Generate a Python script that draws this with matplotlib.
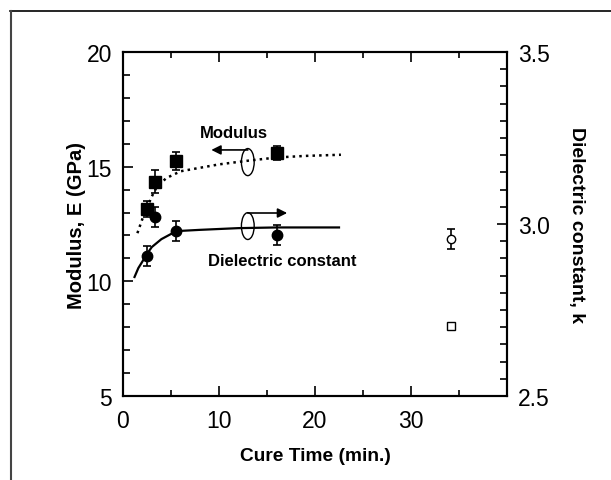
import numpy as np
import matplotlib
matplotlib.use('Agg')
import matplotlib.pyplot as plt
from matplotlib.patches import Ellipse
from matplotlib.lines import Line2D
from matplotlib.ticker import MultipleLocator

plt.rcParams['font.family'] = ['Liberation Sans', 'DejaVu Sans']

##  modulus data (left axis)
mod_t = [2.5, 3.3, 5.5, 16.0]
mod_E = [13.15, 14.35, 15.25, 15.6]
mod_err = [0.35, 0.5, 0.4, 0.3]
mod_open_t = [34.2]
mod_open_E = [8.05]

##  dielectric data (right axis)
diel_t = [2.5, 3.3, 5.5, 16.0]
diel_k = [2.907, 3.02, 2.98, 2.968]
diel_err = [0.03, 0.03, 0.03, 0.03]
diel_open_t = [34.2]
diel_open_k = [2.956]
diel_open_err = [0.03]

##  fitted curves
fit_mod_t = [1.5, 2.0, 2.5, 3.0, 3.5, 4.5, 6.0, 8.0, 10.0, 13.0, 16.0, 19.0, 22.7]
fit_mod_E = [12.1, 12.7, 13.2, 13.7, 14.1, 14.5, 14.8, 14.95, 15.1, 15.26, 15.4, 15.47, 15.52]
fit_diel_t = [1.2, 1.6, 2.0, 2.5, 3.0, 4.0, 5.0, 6.0, 8.0, 12.0, 16.0, 22.5]
fit_diel_k = [2.846, 2.872, 2.89, 2.913, 2.933, 2.956, 2.971, 2.98, 2.983, 2.988, 2.99, 2.99]

fig = plt.figure(figsize=(6.11, 4.81), dpi=100)
ax1 = fig.add_axes([0.2013, 0.1746, 0.6285, 0.7152])
ax2 = ax1.twinx()

# modulus
ax1.plot(fit_mod_t, fit_mod_E, ':', color='black', linewidth=1.8)
ax1.errorbar(mod_t, mod_E, yerr=mod_err, fmt='s', color='black', markersize=9,
             capsize=3, elinewidth=1.2, capthick=1.2)
ax1.plot(mod_open_t, mod_open_E, 's', markerfacecolor='white', markeredgecolor='black',
         markersize=6, markeredgewidth=1.0)

# dielectric constant
ax2.plot(fit_diel_t, fit_diel_k, '-', color='black', linewidth=1.6)
ax2.errorbar(diel_t, diel_k, yerr=diel_err, fmt='o', color='black', markersize=7.5,
             capsize=3, elinewidth=1.2, capthick=1.2)
ax2.errorbar(diel_open_t, diel_open_k, yerr=diel_open_err, fmt='o', color='black',
             markerfacecolor='white', markersize=6, capsize=3, elinewidth=1.2, capthick=1.2)

ax1.set_xlim(0, 40)
ax1.set_ylim(5, 20)
ax2.set_ylim(2.5, 3.5)

ax1.set_xticks([0, 10, 20, 30])
ax1.xaxis.set_minor_locator(MultipleLocator(5))
ax1.set_yticks([5, 10, 15, 20])
ax1.yaxis.set_minor_locator(MultipleLocator(1))
ax2.set_yticks([2.5, 3.0, 3.5])
ax2.set_yticklabels(['2.5', '3.0', '3.5'])
ax2.yaxis.set_minor_locator(MultipleLocator(0.05))

ax1.tick_params(axis='x', which='both', direction='in', top=True, labelsize=16.5, pad=9, width=1.2)
ax1.tick_params(axis='x', which='major', length=7)
ax1.tick_params(axis='x', which='minor', length=4)
ax1.tick_params(axis='y', which='both', direction='in', labelsize=16.5, pad=8, width=1.2)
ax1.tick_params(axis='y', which='major', length=7)
ax1.tick_params(axis='y', which='minor', length=5)
ax2.tick_params(axis='y', which='both', direction='in', labelsize=16.5, pad=8, width=1.2)
ax2.tick_params(axis='y', which='major', length=7)
ax2.tick_params(axis='y', which='minor', length=5)

for ax in (ax1, ax2):
    for s in ax.spines.values():
        s.set_linewidth(1.5)

ax1.set_xlabel('Cure Time (min.)', fontsize=13.8, fontweight='bold', labelpad=11)
ax1.set_ylabel('Modulus, E (GPa)', fontsize=14.5, fontweight='bold', labelpad=0)
ax2.set_ylabel('Dielectric constant, k', fontsize=14, fontweight='bold', rotation=-90,
               labelpad=25)

# annotations
ax1.text(11.6, 16.5, 'Modulus', fontsize=12, fontweight='bold', ha='center', va='center')
ax1.add_patch(Ellipse((13.0, 15.2), 1.33, 1.18, fill=False, edgecolor='black', linewidth=1.0))
ax1.annotate('', xy=(9.2, 15.73), xytext=(13.0, 15.73),
             arrowprops=dict(arrowstyle='-|>', color='black', lw=1.2, mutation_scale=14,
                             shrinkA=0, shrinkB=0))

ax1.text(16.6, 10.9, 'Dielectric constant', fontsize=12, fontweight='bold', ha='center', va='center')
ax2.add_patch(Ellipse((13.0, 2.994), 1.33, 0.078, fill=False, edgecolor='black', linewidth=1.0))
ax2.annotate('', xy=(17.1, 3.032), xytext=(13.0, 3.032),
             arrowprops=dict(arrowstyle='-|>', color='black', lw=1.2, mutation_scale=14,
                             shrinkA=0, shrinkB=0))

# partial frame around the figure
fig.add_artist(Line2D([10/611, 1.0], [1 - 12/481, 1 - 12/481], color='black', linewidth=1.2))
fig.add_artist(Line2D([11/611, 11/611], [0.0, 1 - 12/481], color='#444444', linewidth=1.5))

plt.savefig('out.png', dpi=100)
